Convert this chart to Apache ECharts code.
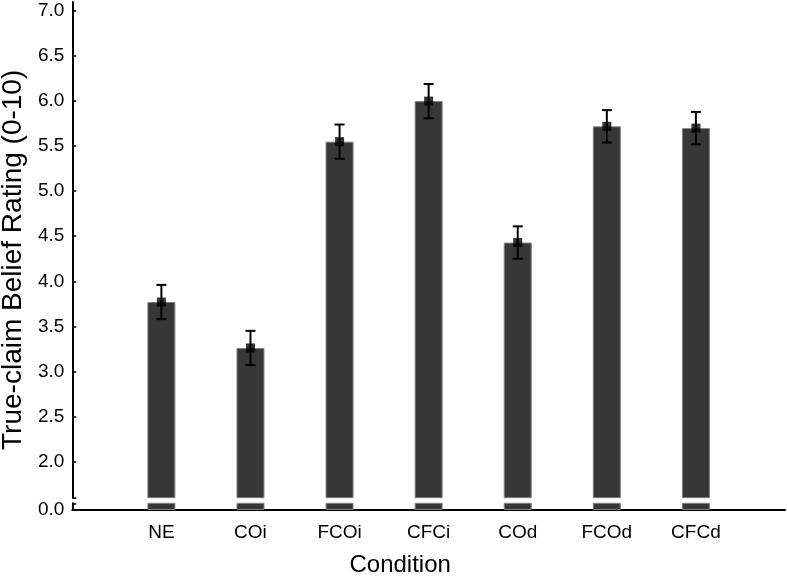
<!DOCTYPE html>
<html><head><meta charset="utf-8">
<script src="https://cdn.jsdelivr.net/npm/echarts@6/dist/echarts.min.js"></script>
<style>html,body{margin:0;padding:0;background:#fff}#c{width:787px;height:576px}</style>
</head><body><div id="c"></div>
<script>
const categories = ['NE', 'COi', 'FCOi', 'CFCi', 'COd', 'FCOd', 'CFCd'];
const means = [3.77, 3.26, 5.55, 6.00, 4.43, 5.72, 5.70];
const errors = [0.19, 0.19, 0.19, 0.19, 0.18, 0.18, 0.18];
const yTickLabelsUpper = [2.0, 2.5, 3.0, 3.5, 4.0, 4.5, 5.0, 5.5, 6.0, 6.5, 7.0];
const yTickLabelsLower = [0.0];

const FONT = 'Liberation Sans';
const positions = categories.map((c, i) => i + 1);
const barData = means.map((m, i) => [positions[i], m]);
const errData = means.map((m, i) => [positions[i], m - errors[i], m + errors[i]]);

// broken axis: upper panel and lower panel
const upperMin = 1.598, upperMax = 7.1;
const lowerMin = 0, lowerMax = 0.074;

const chart = echarts.init(document.getElementById('c'), null, {renderer: 'canvas'});
const axisLineStyle = {color: '#000', width: 2};
const labelStyle = {color: '#000', fontFamily: FONT, fontSize: 19};

const barStyle = {color: '#373737', borderColor: '#808080', borderWidth: 1};

chart.setOption({
  animation: false,
  backgroundColor: '#fff',
  grid: [
    {left: 72.3, right: 2, top: 2, height: 495.7, containLabel: false, outerBoundsMode: 'none'},
    {left: 72.3, right: 2, top: 503.3, height: 6.7, containLabel: false, outerBoundsMode: 'none'}
  ],
  xAxis: [
    {gridIndex: 0, type: 'value', min: 0, max: 8, show: false},
    {gridIndex: 1, type: 'value', min: 0, max: 8, interval: 1,
     axisLine: {show: true, lineStyle: axisLineStyle},
     axisTick: {show: false},
     splitLine: {show: false},
     axisLabel: Object.assign({margin: 13, formatter: v => categories[v - 1] || ''}, labelStyle),
     name: 'Condition', nameLocation: 'middle', nameGap: 43,
     nameTextStyle: {color: '#000', fontFamily: FONT, fontSize: 24, padding: [0, 57, 0, 0]}
    }
  ],
  yAxis: [
    {gridIndex: 0, type: 'value', min: upperMin, max: upperMax,
     axisLine: {show: true, lineStyle: axisLineStyle},
     axisTick: {show: true, inside: true, length: 4, lineStyle: {color: '#000', width: 1.5},
                customValues: [upperMin].concat(yTickLabelsUpper)},
     axisLabel: Object.assign({margin: 8, customValues: yTickLabelsUpper, formatter: v => v.toFixed(1)}, labelStyle),
     splitLine: {show: false},
     name: 'True-claim Belief Rating (0-10)', nameLocation: 'middle', nameGap: 42, nameRotate: 90,
     nameTextStyle: {color: '#000', fontFamily: FONT, fontSize: 28, padding: [0, 20, 0, 0]}
    },
    {gridIndex: 1, type: 'value', min: lowerMin, max: lowerMax,
     axisLine: {show: true, lineStyle: axisLineStyle},
     axisTick: {show: true, inside: true, length: 4, lineStyle: {color: '#000', width: 1.5},
                customValues: [lowerMax]},
     axisLabel: Object.assign({margin: 8, customValues: yTickLabelsLower, formatter: v => v.toFixed(1)}, labelStyle),
     splitLine: {show: false}
    }
  ],
  series: [
    {type: 'bar', xAxisIndex: 0, yAxisIndex: 0, data: barData, barWidth: 28, clip: true, itemStyle: barStyle},
    {type: 'bar', xAxisIndex: 1, yAxisIndex: 1, data: barData, barWidth: 28, clip: true, itemStyle: barStyle},
    {type: 'custom', xAxisIndex: 0, yAxisIndex: 0, data: errData, z: 5,
     encode: {x: 0, y: [1, 2]},
     renderItem: function (params, api) {
       const x = api.value(0), lo = api.value(1), hi = api.value(2);
       const pLo = api.coord([x, lo]), pHi = api.coord([x, hi]);
       const hw = 5;
       const st = {stroke: '#000', lineWidth: 2};
       return {type: 'group', children: [
         {type: 'line', shape: {x1: pLo[0], y1: pLo[1], x2: pHi[0], y2: pHi[1]}, style: st},
         {type: 'line', shape: {x1: pHi[0] - hw, y1: pHi[1], x2: pHi[0] + hw, y2: pHi[1]}, style: st},
         {type: 'line', shape: {x1: pLo[0] - hw, y1: pLo[1], x2: pLo[0] + hw, y2: pLo[1]}, style: st}
       ]};
     }
    },
    {type: 'scatter', xAxisIndex: 0, yAxisIndex: 0, data: barData, symbol: 'rect', symbolSize: 9, z: 6,
     itemStyle: {color: '#000'}}
  ]
});
</script>
</body></html>
